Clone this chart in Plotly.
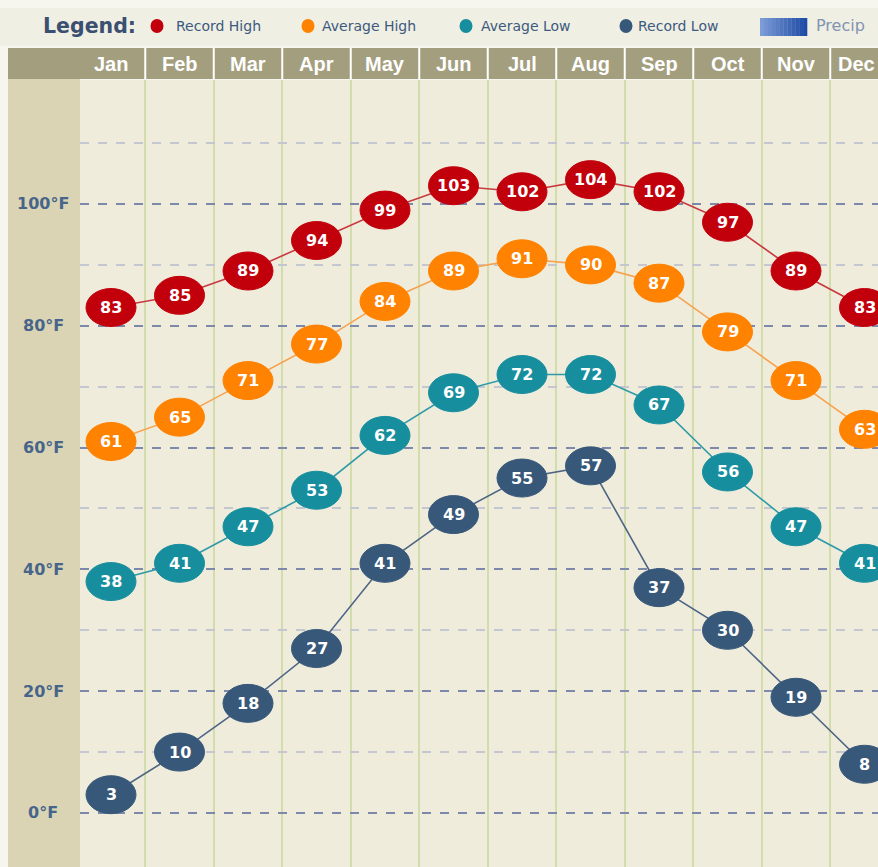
import plotly.graph_objects as go

# ---------------- data ----------------
months = ["Jan", "Feb", "Mar", "Apr", "May", "Jun", "Jul", "Aug", "Sep", "Oct", "Nov", "Dec"]
record_high = [83, 85, 89, 94, 99, 103, 102, 104, 102, 97, 89, 83]
average_high = [61, 65, 71, 77, 84, 89, 91, 90, 87, 79, 71, 63]
average_low = [38, 41, 47, 53, 62, 69, 72, 72, 67, 56, 47, 41]
record_low = [3, 10, 18, 27, 41, 49, 55, 57, 37, 30, 19, 8]
y_major_ticks = [0, 20, 40, 60, 80, 100]
y_major_labels = ["0°F", "20°F", "40°F", "60°F", "80°F", "100°F"]
y_minor_ticks = [10, 30, 50, 70, 90, 110]
legend_labels = ["Record High", "Average High", "Average Low", "Record Low"]

# ---------------- styles ----------------
W, H = 878, 867
marker_colors = ["#c2000c", "#ff8200", "#178e9e", "#38587a"]
line_colors = ["#c83a40", "#f8a24e", "#2e9aa8", "#4d6585"]
PLOT_BG = "#efecdb"
BAND = "#dad4b4"
HEADER = "#a39e7e"
PAGE = "#f6f5ee"
LEGEND_BG = "#f0efe3"
PLOT_LEFT = 80


def px(p):
    return p / W


def py(p):
    return 1 - p / H


fig = go.Figure()
series = [record_high, average_high, average_low, record_low]
xs = list(range(len(months)))

for vals, mc, lc in zip(series, marker_colors, line_colors):
    fig.add_trace(go.Scatter(x=xs, y=vals, mode="lines",
                             line=dict(color=lc, width=1.6),
                             hoverinfo="skip", showlegend=False))
    for i, v in zip(xs, vals):
        fig.add_shape(type="circle", xref="x", yref="y",
                      xsizemode="pixel", ysizemode="pixel",
                      xanchor=i, yanchor=v, x0=-25, x1=25, y0=-19, y1=19,
                      fillcolor=mc, line=dict(color=mc, width=1), layer="above")
        fig.add_annotation(x=i, y=v, xref="x", yref="y", text=str(v),
                           showarrow=False,
                           font=dict(family="DejaVu Sans", size=16, color="white", weight="bold"))

shapes = []
# band left of the plot area, legend row, header
shapes.append(dict(type="rect", xref="paper", yref="paper", x0=px(8), x1=px(PLOT_LEFT), y0=0, y1=py(79),
                   fillcolor=BAND, line_width=0, layer="below"))
shapes.append(dict(type="rect", xref="paper", yref="paper", x0=0, x1=1, y0=py(46), y1=py(8),
                   fillcolor=LEGEND_BG, line_width=0, layer="below"))
shapes.append(dict(type="rect", xref="paper", yref="paper", x0=px(8), x1=1, y0=py(79), y1=py(48),
                   fillcolor=HEADER, line_width=0, layer="below"))
# header separators
for i in xs[:-1]:
    shapes.append(dict(type="line", xref="x", yref="paper", x0=i + 0.5, x1=i + 0.5,
                       y0=py(79), y1=py(48), line=dict(color="white", width=2), layer="above"))
# legend dots
dot_x = [157, 308, 466, 626]
for cx, mc in zip(dot_x, marker_colors):
    shapes.append(dict(type="circle", xref="paper", yref="paper",
                       x0=px(cx - 6.5), x1=px(cx + 6.5), y0=py(33), y1=py(19),
                       fillcolor=mc, line_width=0))
# precip gradient box
n = 12
for k in range(n):
    t = k / (n - 1)
    r = int(0x7c + (0x1e - 0x7c) * t)
    g = int(0x9c + (0x4c - 0x9c) * t)
    b = int(0xd6 + (0xa6 - 0xd6) * t)
    x0 = 760 + (807 - 760) * k / n
    x1 = 760 + (807 - 760) * (k + 1) / n
    shapes.append(dict(type="rect", xref="paper", yref="paper", x0=px(x0), x1=px(x1 + 0.3),
                       y0=py(36), y1=py(18), fillcolor=f"rgb({r},{g},{b})", line_width=0))
fig.update_layout(shapes=list(fig.layout.shapes) + shapes)

# month header labels (the last column is cut by the page edge: keep its label inside)
for i, m in zip(xs, months):
    if i == xs[-1]:
        fig.add_annotation(x=1, xref="paper", y=py(64), yref="paper", text=m, showarrow=False,
                           xanchor="right", yanchor="middle", xshift=-1,
                           font=dict(family="Liberation Sans", size=20, color="white", weight="bold"))
    else:
        fig.add_annotation(x=i, xref="x", y=py(64), yref="paper", text=m, showarrow=False,
                           xanchor="center", yanchor="middle",
                           font=dict(family="Liberation Sans", size=20, color="white", weight="bold"))

# legend texts
fig.add_annotation(xref="paper", yref="paper", x=px(41), y=py(26), xanchor="left", yanchor="middle",
                   text="Legend:", showarrow=False,
                   font=dict(family="DejaVu Sans", size=20.5, color="#3b4f70", weight="bold"))
text_x = [174, 320, 479, 636]
for tx, lab in zip(text_x, legend_labels):
    fig.add_annotation(xref="paper", yref="paper", x=px(tx), y=py(26), xanchor="left", yanchor="middle",
                       text=lab, showarrow=False,
                       font=dict(family="DejaVu Sans", size=14, color="#3c5a80"))
fig.add_annotation(xref="paper", yref="paper", x=px(814), y=py(26), xanchor="left", yanchor="middle",
                   text="Precip", showarrow=False,
                   font=dict(family="DejaVu Sans", size=16, color="#8393b3"))

# y labels
for v, lab in zip(y_major_ticks, y_major_labels):
    fig.add_annotation(xref="paper", yref="y", x=px(43), y=v, xanchor="center", yanchor="middle",
                       text=lab, showarrow=False,
                       font=dict(family="DejaVu Sans", size=16, color="#47658a", weight="bold"))

x0_px, dx_px = 111, 68.5
fig.update_layout(
    width=W, height=H,
    margin=dict(l=0, r=0, t=0, b=0),
    paper_bgcolor=PAGE,
    plot_bgcolor=PLOT_BG,
    xaxis=dict(range=[(PLOT_LEFT - x0_px) / dx_px, (W - x0_px) / dx_px], domain=[PLOT_LEFT / W, 1],
               side="top", tickmode="array", tickvals=xs, showticklabels=False,
               ticks="", showgrid=False, zeroline=False, showline=False,
               minor=dict(tickvals=[i + 0.5 for i in xs[:-1]], showgrid=True,
                          gridcolor="#d3dcab", gridwidth=2, ticks="")),
    yaxis=dict(range=[-8.87, 120.36], domain=[0, 1 - 80 / H],
               tickmode="array", tickvals=y_major_ticks, showticklabels=False,
               showgrid=True, gridcolor="#7d89ab", gridwidth=2, griddash="dash",
               zeroline=False, showline=False, ticks="",
               minor=dict(tickvals=y_minor_ticks, showgrid=True, gridcolor="#c4c7cf",
                          gridwidth=2, griddash="dash", ticks="")),
)

fig.write_html("out.html", config={"displayModeBar": False},
               post_script="document.body.style.margin='0';document.body.style.overflow='hidden';"
                           "document.documentElement.style.overflow='hidden';")
